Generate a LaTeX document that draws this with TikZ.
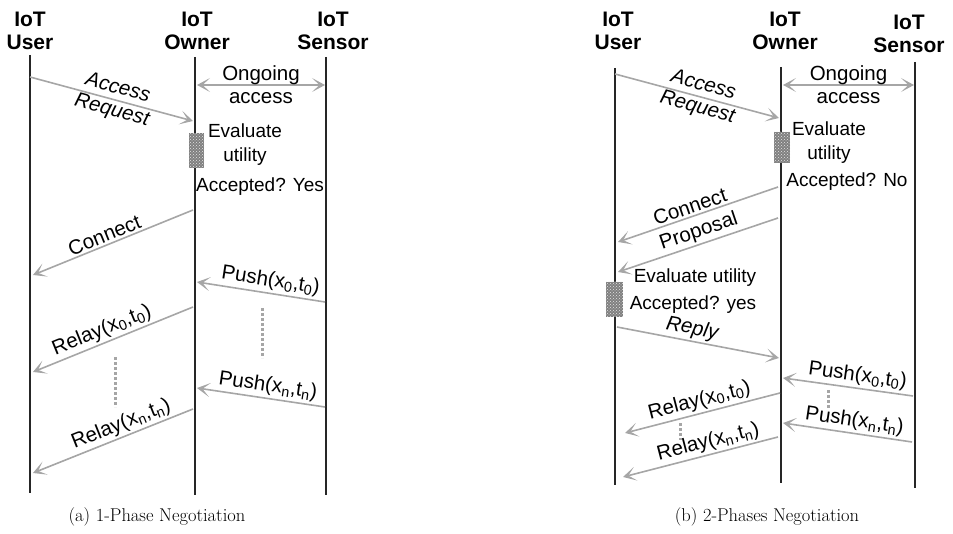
\documentclass[tikz,border=0pt]{standalone}
\usepackage{fontspec}
\usepackage{tikz}
\usetikzlibrary{arrows.meta, patterns, positioning}
\newfontfamily\arialfont{Liberation Sans}
\definecolor{msggray}{RGB}{166,166,166}
\definecolor{boxgray}{RGB}{128,128,128}

\begin{document}
\begin{tikzpicture}[
    x=1pt, y=-1pt,
    actor/.style={font=\arialfont\bfseries\fontsize{21}{23}\selectfont, align=center, inner sep=0pt},
    life/.style={line width=1.6pt, black!85},
    msg/.style={draw=msggray, line width=1.6pt, -{Stealth[length=13pt,width=14pt,inset=7.5pt]}},
    twoway/.style={draw=msggray, line width=1.6pt, {Stealth[length=13pt,width=14pt,inset=7.5pt]}-{Stealth[length=13pt,width=14pt,inset=7.5pt]}},
    lbl/.style={font=\arialfont\fontsize{20.5}{23}\selectfont, align=center, inner sep=1pt},
    slant/.style={font=\arialfont\itshape\fontsize{20.5}{23}\selectfont},
    note/.style={font=\arialfont\fontsize{19}{24}\selectfont, align=center, inner sep=1pt},
    evalbox/.style={preaction={fill=boxgray}, pattern=crosshatch dots, pattern color=white!80!gray},
    gap/.style={draw=msggray, line width=3pt, dash pattern=on 3pt off 2pt},
    caption/.style={font=\fontsize{18.5}{22}\selectfont}
]
\useasboundingbox (0,0) rectangle (953,534);

% (a) 1-Phase Negotiation
\node[actor] (userA) at (30,31) {IoT\\User};
\node[actor] (ownerA) at (197,31) {IoT\\Owner};
\node[actor] (sensorA) at (333,31) {IoT\\Sensor};

\coordinate (uA1) at (30,55);  \coordinate (uA2) at (30,493);
\coordinate (oA1) at (195,57); \coordinate (oA2) at (195,495);
\coordinate (sA1) at (326,57); \coordinate (sA2) at (326,495);
\draw[life] (uA1) -- (uA2);
\draw[life] (oA1) -- (oA2);
\draw[life] (sA1) -- (sA2);

\coordinate (reqA1) at (30,77);    \coordinate (reqA2) at (193,121);
\coordinate (ongA1) at (197,85);   \coordinate (ongA2) at (325,85);
\coordinate (conA1) at (193,210);  \coordinate (conA2) at (33,275);
\coordinate (pushA1) at (325,302); \coordinate (pushA2) at (197,282);
\coordinate (relA1) at (193,307);  \coordinate (relA2) at (33,372);
\coordinate (pushA3) at (325,407); \coordinate (pushA4) at (197,388);
\coordinate (relA3) at (193,409);  \coordinate (relA4) at (33,473);

\draw[msg] (reqA1) -- node[lbl, slant, sloped, pos=0.52] {Access\\Request} (reqA2);
\draw[twoway] (ongA1) -- node[lbl, midway] {Ongoing\\access} (ongA2);
\draw[msg] (conA1) -- node[lbl, sloped, pos=0.53, above=1pt] {Connect} (conA2);
\draw[msg] (pushA1) -- node[lbl, sloped, pos=0.44, above=1pt] {Push(x\textsubscript{0},t\textsubscript{0})} (pushA2);
\draw[msg] (relA1) -- node[lbl, sloped, pos=0.54, above=1pt] {Relay(x\textsubscript{0},t\textsubscript{0})} (relA2);
\draw[msg] (pushA3) -- node[lbl, sloped, pos=0.46, above=1pt] {Push(x\textsubscript{n},t\textsubscript{n})} (pushA4);
\draw[msg] (relA3) -- node[lbl, sloped, pos=0.42, above=1pt] {Relay(x\textsubscript{n},t\textsubscript{n})} (relA4);

% evaluation on owner
\node[evalbox, minimum width=15pt, minimum height=35pt, inner sep=0pt] (boxA) at (196.5,150.5) {};
\node[note] (evalA) at (245,145) {Evaluate\\utility};
\node[note] (accA) at (260,187) {Accepted? Yes};

\coordinate (dotA1) at (262,308); \coordinate (dotA2) at (262,358);
\coordinate (dotA3) at (115,357); \coordinate (dotA4) at (115,407);
\draw[gap] (dotA1) -- (dotA2);
\draw[gap] (dotA3) -- (dotA4);

\node[caption] (capA) at (157,517) {(a) 1-Phase Negotiation};

% (b) 2-Phases Negotiation
\node[actor] (userB) at (618,31) {IoT\\User};
\node[actor] (ownerB) at (785,31) {IoT\\Owner};
\node[actor] (sensorB) at (909,34) {IoT\\Sensor};

\coordinate (uB1) at (615,68); \coordinate (uB2) at (615,485);
\coordinate (oB1) at (781,67); \coordinate (oB2) at (781,483);
\coordinate (sB1) at (915,62); \coordinate (sB2) at (915,488);
\draw[life] (uB1) -- (uB2);
\draw[life] (oB1) -- (oB2);
\draw[life] (sB1) -- (sB2);

\coordinate (reqB1) at (615,74);   \coordinate (reqB2) at (779,118);
\coordinate (ongB1) at (783,85);   \coordinate (ongB2) at (914,85);
\coordinate (conB1) at (778,187);  \coordinate (conB2) at (618,242);
\coordinate (propB1) at (778,218); \coordinate (propB2) at (618,272);
\coordinate (repB1) at (617,327);  \coordinate (repB2) at (779,358);
\coordinate (pushB1) at (913,396); \coordinate (pushB2) at (783,378);
\coordinate (pushB3) at (912,442); \coordinate (pushB4) at (783,423);
\coordinate (relB1) at (780,393);  \coordinate (relB2) at (625,433);
\coordinate (relB3) at (778,437);  \coordinate (relB4) at (623,477);

\draw[msg] (reqB1) -- node[lbl, slant, sloped, pos=0.52] {Access\\Request} (reqB2);
\draw[twoway] (ongB1) -- node[lbl, midway] {Ongoing\\access} (ongB2);
\draw[msg] (conB1) -- node[lbl, sloped, pos=0.53, above=1pt] {Connect} (conB2);
\draw[msg] (propB1) -- node[lbl, sloped, pos=0.47, above=1pt] {Proposal} (propB2);
\draw[msg] (repB1) -- node[lbl, slant, sloped, pos=0.45, above=1pt] {Reply} (repB2);
\draw[msg] (pushB1) -- node[lbl, sloped, pos=0.44, above=1pt] {Push(x\textsubscript{0},t\textsubscript{0})} (pushB2);
\draw[msg] (pushB3) -- node[lbl, sloped, pos=0.46, above=1pt] {Push(x\textsubscript{n},t\textsubscript{n})} (pushB4);
\draw[msg] (relB1) -- node[lbl, sloped, pos=0.5, above=1pt] {Relay(x\textsubscript{0},t\textsubscript{0})} (relB2);
\draw[msg] (relB3) -- node[lbl, sloped, pos=0.43, above=1pt] {Relay(x\textsubscript{n},t\textsubscript{n})} (relB4);

% evaluation on owner and user
\node[evalbox, minimum width=16pt, minimum height=31pt, inner sep=0pt] (boxB) at (782,147.5) {};
\node[note] (evalB) at (829,143) {Evaluate\\utility};
\node[note] (accB) at (847,182) {Accepted? No};
\node[evalbox, minimum width=17pt, minimum height=35pt, inner sep=0pt] (boxU) at (614.5,299.5) {};
\node[note] (evalU) at (695,278) {Evaluate utility};
\node[note] (accU) at (693,305) {Accepted? yes};

\coordinate (dotB1) at (828,390); \coordinate (dotB2) at (828,408);
\coordinate (dotB3) at (680,423); \coordinate (dotB4) at (680,440);
\draw[gap] (dotB1) -- (dotB2);
\draw[gap] (dotB3) -- (dotB4);

\node[caption] (capB) at (767,517) {(b) 2-Phases Negotiation};

\end{tikzpicture}
\end{document}
